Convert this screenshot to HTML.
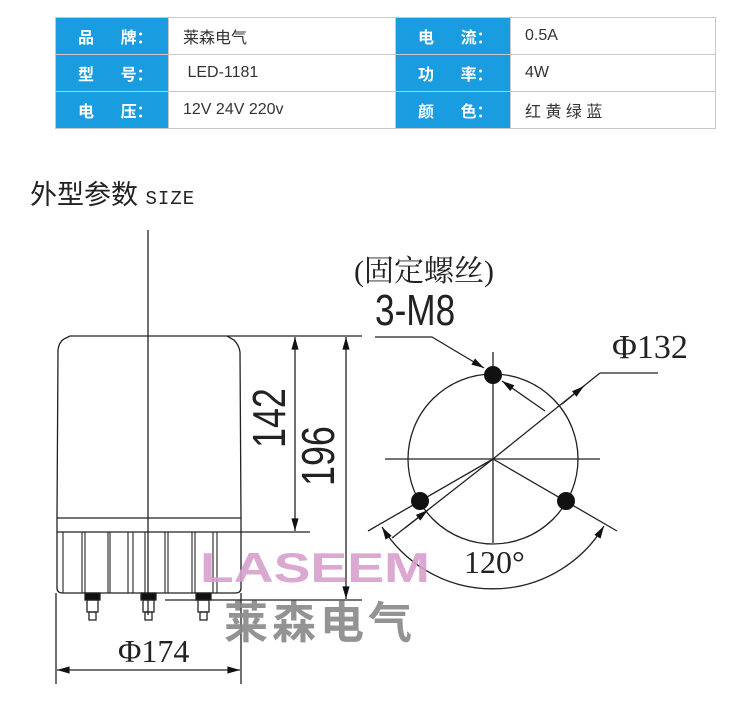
<!DOCTYPE html>
<html><head><meta charset="utf-8"><style>
body{margin:0;background:#fff;width:750px;height:711px;overflow:hidden;font-family:"Liberation Sans","Noto Sans CJK SC",sans-serif}
table{position:absolute;left:55px;top:17px;border-collapse:collapse;width:660px;table-layout:fixed}
td{height:36px;border:1px solid #c8c8c8;font-size:16px;color:#333;padding:0}
td.k{background:#1a9de0;color:#fff;font-weight:bold;padding-left:22px;box-sizing:border-box}
td.v{padding-left:14px}
.t{position:absolute;left:30px;top:173px;font-size:27px;color:#222}
.t span{font-family:"Liberation Mono",monospace;font-size:19px;letter-spacing:1px}
svg{position:absolute;left:0;top:0}
</style></head><body>
<table>
<colgroup><col style="width:113px"><col style="width:227px"><col style="width:115px"><col style="width:205px"></colgroup>
<tr><td class="k">品&nbsp;&nbsp;&nbsp;&nbsp;&nbsp;&nbsp;牌：</td><td class="v">莱森电气</td><td class="k">电&nbsp;&nbsp;&nbsp;&nbsp;&nbsp;&nbsp;流：</td><td class="v">0.5A</td></tr>
<tr><td class="k">型&nbsp;&nbsp;&nbsp;&nbsp;&nbsp;&nbsp;号：</td><td class="v">&nbsp;LED-1181</td><td class="k">功&nbsp;&nbsp;&nbsp;&nbsp;&nbsp;&nbsp;率：</td><td class="v">4W</td></tr>
<tr><td class="k">电&nbsp;&nbsp;&nbsp;&nbsp;&nbsp;&nbsp;压：</td><td class="v">12V 24V 220v</td><td class="k">颜&nbsp;&nbsp;&nbsp;&nbsp;&nbsp;&nbsp;色：</td><td class="v">红 黄 绿 蓝</td></tr>
</table>
<div class="t">外型参数 <span>SIZE</span></div>
<svg width="750" height="711" viewBox="0 0 750 711">
<defs><marker id="a" viewBox="0 0 14 10" refX="14" refY="5" markerWidth="14" markerHeight="9" orient="auto-start-reverse" markerUnits="userSpaceOnUse"><path d="M0,1L14,5L0,9z" fill="#111"/></marker></defs>
<g stroke="#222" stroke-width="1.3" fill="none">
<path d="M57,518 L58,350 Q59,341 66,338 L70,336 L227,336 L234,340 Q239,345 240,352 L241,518"/>
<line x1="57" y1="518" x2="241" y2="518"/><line x1="57" y1="532" x2="241" y2="532"/>
<line x1="57" y1="518" x2="57" y2="532"/><line x1="241" y1="518" x2="241" y2="532"/>
<path d="M57,532 L57,588 Q57,593 63,593 L235,593 Q241,593 241,588 L241,532"/>
<g stroke-width="1.1">
<line x1="63" y1="532" x2="63" y2="593"/><line x1="82" y1="532" x2="82" y2="593"/><line x1="85" y1="532" x2="85" y2="593"/>
<line x1="108" y1="532" x2="108" y2="593"/><line x1="110" y1="532" x2="110" y2="593"/><line x1="128" y1="532" x2="128" y2="593"/>
<line x1="133" y1="532" x2="133" y2="593"/><line x1="145" y1="532" x2="145" y2="593"/><line x1="165" y1="532" x2="165" y2="593"/>
<line x1="168" y1="532" x2="168" y2="593"/><line x1="192" y1="532" x2="192" y2="593"/><line x1="195" y1="532" x2="195" y2="593"/>
<line x1="213" y1="532" x2="213" y2="593"/><line x1="217" y1="532" x2="217" y2="593"/></g>
<line x1="148" y1="230" x2="148" y2="615"/>
<rect x="85" y="593" width="15" height="7" fill="#111"/><rect x="87" y="600" width="11" height="12"/><rect x="89" y="612" width="7" height="8"/>
<rect x="141" y="593" width="15" height="7" fill="#111"/><rect x="143" y="600" width="11" height="12"/><rect x="145" y="612" width="7" height="8"/>
<rect x="196" y="593" width="15" height="7" fill="#111"/><rect x="198" y="600" width="11" height="12"/><rect x="200" y="612" width="7" height="8"/>
<line x1="227" y1="336" x2="362" y2="336"/>
<line x1="241" y1="532" x2="310" y2="532"/>
<line x1="165" y1="600" x2="362" y2="600"/>
<line x1="295" y1="337" x2="295" y2="531" marker-start="url(#a)" marker-end="url(#a)"/>
<line x1="346" y1="337" x2="346" y2="599" marker-start="url(#a)" marker-end="url(#a)"/>
<line x1="56" y1="593" x2="56" y2="684"/><line x1="241" y1="593" x2="241" y2="684"/>
<line x1="57" y1="670" x2="240" y2="670" marker-start="url(#a)" marker-end="url(#a)"/>
<circle cx="493" cy="459" r="85"/>
<line x1="385" y1="459" x2="600" y2="459"/><line x1="493" y1="352" x2="493" y2="543"/>
<line x1="493" y1="459" x2="368" y2="531"/><line x1="493" y1="459" x2="617" y2="531"/>
<line x1="493" y1="459" x2="600" y2="373"/><line x1="600" y1="373" x2="658" y2="373"/>
<line x1="584" y1="386" x2="562" y2="404" marker-start="url(#a)"/>
<line x1="493" y1="459" x2="392" y2="538"/>
<line x1="428" y1="510" x2="405" y2="528" marker-start="url(#a)"/>
<line x1="545" y1="411" x2="502" y2="381" marker-end="url(#a)"/>
<path d="M375,337 L432,337 L484,368" marker-end="url(#a)"/>
<path d="M382,527 A130,130 0 0 0 604,526" marker-start="url(#a)" marker-end="url(#a)"/>
</g>
<g fill="#111"><circle cx="493" cy="375" r="9"/><circle cx="420" cy="501" r="9"/><circle cx="566" cy="501" r="9"/></g>
<g fill="#222">
<text transform="translate(285,448) rotate(-90) scale(0.78,1)" font-family="Liberation Sans,sans-serif" font-size="46">142</text>
<text transform="translate(334,486) rotate(-90) scale(0.78,1)" font-family="Liberation Sans,sans-serif" font-size="46">196</text>
<text x="118" y="662" font-family="Liberation Serif,serif" font-size="32">Φ174</text>
<text x="354" y="281" font-family="Liberation Serif,'Noto Serif CJK SC',serif" font-size="30">(固定螺丝)</text>
<text transform="translate(375,325) scale(0.8,1)" font-family="Liberation Sans,sans-serif" font-size="44">3-M8</text>
<text x="612" y="358" font-family="Liberation Serif,serif" font-size="34">Φ132</text>
<text x="464" y="573" font-family="Liberation Serif,serif" font-size="32">120°</text>
</g>
<text x="200" y="582" font-family="Liberation Sans,sans-serif" font-weight="bold" font-size="42" fill="#d79fcb" opacity="0.9" textLength="230" lengthAdjust="spacingAndGlyphs">LASEEM</text>
<text x="224" y="638" font-family="'Noto Sans CJK SC',sans-serif" font-weight="bold" font-size="44" fill="#888" opacity="0.9" letter-spacing="4">莱森电气</text>
</svg>
</body></html>
